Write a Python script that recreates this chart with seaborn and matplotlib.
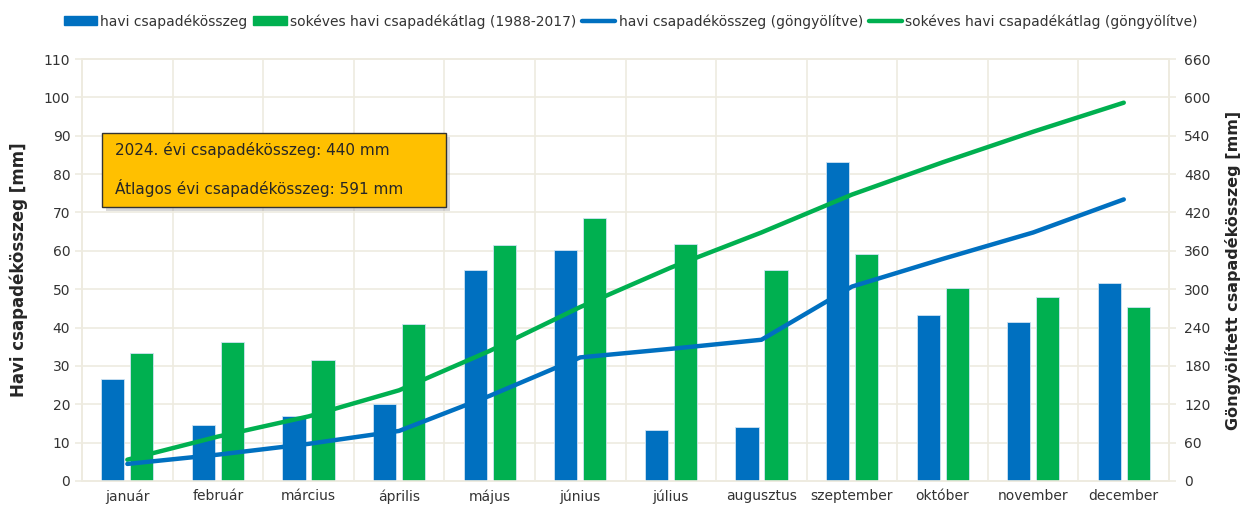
import numpy as np
import pandas as pd
import matplotlib
matplotlib.use("Agg")
import matplotlib.pyplot as plt
from matplotlib.patches import Patch, Rectangle
from matplotlib.lines import Line2D
import seaborn as sns

MONTHS = ["január", "február", "március", "április", "május", "június",
          "július", "augusztus", "szeptember", "október", "november", "december"]
MONTHLY_2024 = [26.7, 14.5, 16.9, 20.2, 54.9, 60.1, 13.4, 14.2, 83.2, 43.2, 41.4, 51.7]
MONTHLY_AVG = [33.3, 36.2, 31.5, 40.9, 61.6, 68.6, 61.7, 54.9, 59.3, 50.4, 47.9, 45.4]
SERIES_BAR = ["havi csapadékösszeg", "sokéves havi csapadékátlag (1988-2017)"]
SERIES_LINE = ["havi csapadékösszeg (göngyölítve)", "sokéves havi csapadékátlag (göngyölítve)"]
TOTAL_2024 = 440
TOTAL_AVG = 591

BLUE = "#0070C0"
GREEN = "#00B050"
GRID = "#EEEBE0"
TXT = "#333333"

sns.set_theme(style="white")
plt.rcParams["font.family"] = ["DejaVu Sans"]

df = pd.DataFrame({
    "month": MONTHS * 2,
    "value": MONTHLY_2024 + MONTHLY_AVG,
    "series": [SERIES_BAR[0]] * 12 + [SERIES_BAR[1]] * 12,
})

fig = plt.figure(figsize=(12.49, 5.07), dpi=100)
ax = fig.add_axes([0.0657, 0.0513, 0.8703, 0.8323])

sns.barplot(data=df, x="month", y="value", hue="series", order=MONTHS,
            palette=[BLUE, GREEN], width=0.64, gap=0.2, saturation=1,
            edgecolor="#CFE3F3", linewidth=0.6, legend=False, ax=ax, zorder=3)

ax.set_xlim(-0.5, 11.5)
ax.set_ylim(0, 110)
ax.set_yticks(np.arange(0, 111, 10))
ax.set_xticks(np.arange(12))
ax.set_xticklabels(MONTHS, fontsize=10, color=TXT)
ax.set_xticks(np.arange(-0.5, 12, 1), minor=True)
ax.tick_params(axis="x", which="major", length=0, pad=6)
ax.tick_params(axis="x", which="minor", length=5, color=GRID, width=1.2)
ax.tick_params(axis="y", length=5, color=GRID, width=1.2, labelsize=10, labelcolor=TXT)
ax.grid(axis="y", which="major", color=GRID, linewidth=1.2, zorder=0)
ax.grid(axis="x", which="minor", color=GRID, linewidth=1.2, zorder=0)
ax.set_axisbelow(True)
for s in ax.spines.values():
    s.set_color(GRID)
    s.set_linewidth(1.2)
ax.set_xlabel("")
ax.set_ylabel("Havi csapadékösszeg [mm]", fontsize=12, fontweight="bold", color="#262626", labelpad=11)

ax2 = ax.twinx()
x = np.arange(12)
sns.lineplot(x=x, y=np.cumsum(MONTHLY_AVG), color=GREEN, linewidth=3.2, ax=ax2,
             solid_capstyle="round", solid_joinstyle="round")
sns.lineplot(x=x, y=np.cumsum(MONTHLY_2024), color=BLUE, linewidth=3.2, ax=ax2,
             solid_capstyle="round", solid_joinstyle="round")
ax2.set_ylim(0, 660)
ax2.set_yticks(np.arange(0, 661, 60))
ax2.tick_params(axis="y", length=5, color=GRID, width=1.2, labelsize=10, labelcolor=TXT, pad=6)
ax2.set_ylabel("Göngyölített csapadékösszeg [mm]", fontsize=11.5, fontweight="bold", color="#262626", labelpad=10)
for s in ax2.spines.values():
    s.set_color(GRID)
    s.set_linewidth(1.2)
ax2.grid(False)

handles = [
    Patch(facecolor=BLUE, edgecolor=BLUE),
    Patch(facecolor=GREEN, edgecolor=GREEN),
    Line2D([0], [0], color=BLUE, linewidth=3.2, solid_capstyle="round"),
    Line2D([0], [0], color=GREEN, linewidth=3.2, solid_capstyle="round"),
]
fig.legend(handles, SERIES_BAR + SERIES_LINE, loc="center", bbox_to_anchor=(0.505, 0.958),
           ncol=4, frameon=False, fontsize=10, handlelength=2.4, handleheight=0.6,
           handletextpad=0.25, columnspacing=0.4, labelcolor=TXT)

# annotation box with shadow
fig.add_artist(Rectangle((0.0847, 0.584), 0.2754, 0.146, transform=fig.transFigure,
                         facecolor="#A0A0A0", alpha=0.4, edgecolor="none", zorder=9))
fig.add_artist(Rectangle((0.0817, 0.5917), 0.2754, 0.146, transform=fig.transFigure,
                         facecolor="#FFC000", edgecolor="#333333", linewidth=1.0, zorder=10))
fig.text(0.092, 0.704, f"2024. évi csapadékösszeg: {TOTAL_2024} mm", fontsize=11,
         color="#262626", va="center", zorder=11)
fig.text(0.092, 0.629, f"Átlagos évi csapadékösszeg: {TOTAL_AVG} mm", fontsize=11,
         color="#262626", va="center", zorder=11)

fig.savefig("out.png", dpi=100)
